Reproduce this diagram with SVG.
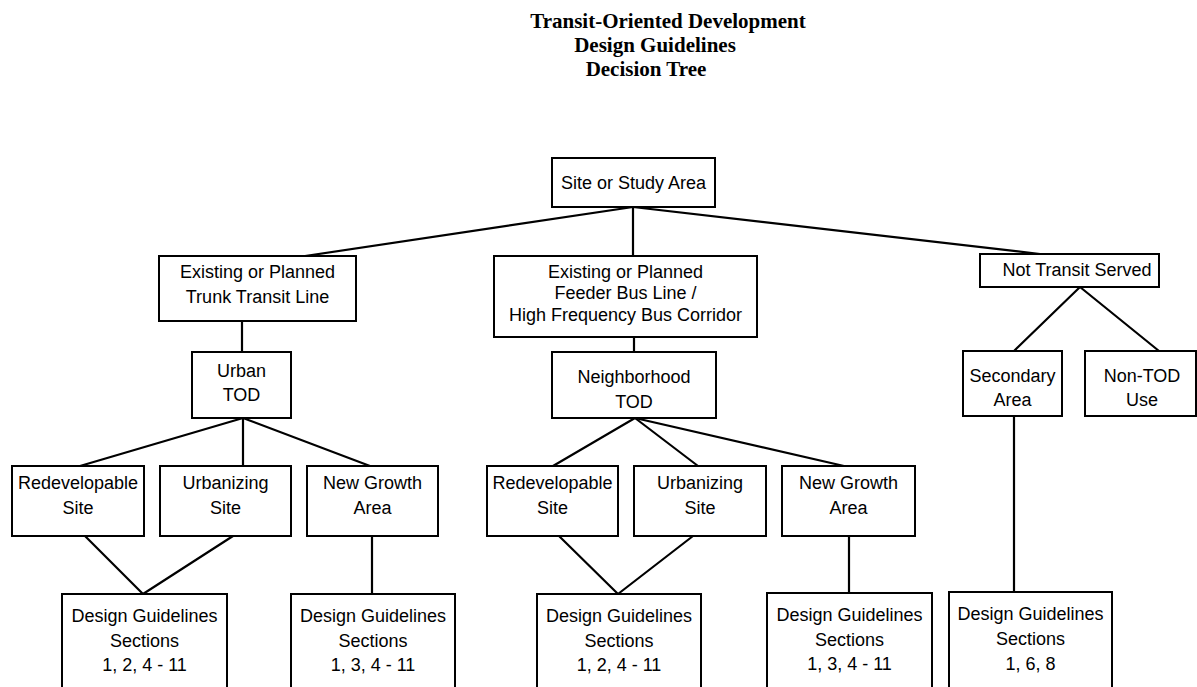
<svg xmlns="http://www.w3.org/2000/svg" width="1197" height="687" viewBox="0 0 1197 687">
<style>
.box{fill:#fff;stroke:#000;stroke-width:2}
.t{font-family:"Liberation Sans",Arial,sans-serif;font-size:18px;fill:#000;text-anchor:middle}
.title{font-family:"Liberation Serif","Times New Roman",serif;font-size:21px;font-weight:bold;fill:#000;text-anchor:middle}
.c line{stroke:#000;stroke-width:2.2;stroke-linecap:round}
</style>
<rect width="1197" height="687" fill="#fff"/>
<g id="title">
<text class="title" x="668" y="28">Transit-Oriented Development</text>
<text class="title" x="655" y="52">Design Guidelines</text>
<text class="title" x="646" y="76">Decision Tree</text>
</g>
<g id="connectors" class="c">
<line x1="633" y1="207" x2="305" y2="256"/>
<line x1="633" y1="207" x2="633" y2="256"/>
<line x1="633" y1="207" x2="1040" y2="254"/>
<line x1="242" y1="321" x2="242" y2="352"/>
<line x1="634" y1="337" x2="634" y2="352"/>
<line x1="243" y1="418" x2="80" y2="466"/>
<line x1="243" y1="418" x2="243" y2="466"/>
<line x1="243" y1="418" x2="370" y2="466"/>
<line x1="635" y1="418" x2="553" y2="466"/>
<line x1="635" y1="418" x2="698" y2="466"/>
<line x1="635" y1="418" x2="844" y2="466"/>
<line x1="1080" y1="287" x2="1014" y2="351"/>
<line x1="1080" y1="287" x2="1159" y2="351"/>
<line x1="85" y1="536" x2="143" y2="594"/>
<line x1="233" y1="536" x2="143" y2="594"/>
<line x1="372" y1="536" x2="372" y2="594"/>
<line x1="559" y1="536" x2="618" y2="594"/>
<line x1="693" y1="536" x2="618" y2="594"/>
<line x1="849" y1="536" x2="849" y2="593"/>
<line x1="1014" y1="416" x2="1014" y2="592"/>
</g>
<g id="site"><rect class="box" x="552" y="158" width="163" height="49"/><text class="t" x="633.5" y="189">Site or Study Area</text></g>
<g id="trunk"><rect class="box" x="159" y="256" width="197" height="65"/><text class="t" x="257.5" y="278">Existing or Planned</text><text class="t" x="257.5" y="303">Trunk Transit Line</text></g>
<g id="feeder"><rect class="box" x="494" y="256" width="263" height="81"/><text class="t" x="625.5" y="278">Existing or Planned</text><text class="t" x="625.5" y="299">Feeder Bus Line /</text><text class="t" x="625.5" y="321">High Frequency Bus Corridor</text></g>
<g id="notransit"><rect class="box" x="980" y="254" width="179" height="33"/><text class="t" x="1077" y="276">Not Transit Served</text></g>
<g id="urban"><rect class="box" x="192" y="352" width="99" height="66"/><text class="t" x="241.5" y="377">Urban</text><text class="t" x="241.5" y="401">TOD</text></g>
<g id="neighborhood"><rect class="box" x="552" y="352" width="164" height="66"/><text class="t" x="634" y="383">Neighborhood</text><text class="t" x="634" y="408">TOD</text></g>
<g id="secondary"><rect class="box" x="963" y="351" width="99" height="65"/><text class="t" x="1012.5" y="382">Secondary</text><text class="t" x="1012.5" y="406">Area</text></g>
<g id="nontod"><rect class="box" x="1085" y="351" width="111" height="65"/><text class="t" x="1142" y="382">Non-TOD</text><text class="t" x="1142" y="406">Use</text></g>
<g id="redev1"><rect class="box" x="12" y="466" width="132" height="70"/><text class="t" x="78" y="489">Redevelopable</text><text class="t" x="78" y="514">Site</text></g>
<g id="urbanizing1"><rect class="box" x="160" y="466" width="131" height="70"/><text class="t" x="225.5" y="489">Urbanizing</text><text class="t" x="225.5" y="514">Site</text></g>
<g id="newgrowth1"><rect class="box" x="307" y="466" width="131" height="70"/><text class="t" x="372.5" y="489">New Growth</text><text class="t" x="372.5" y="514">Area</text></g>
<g id="redev2"><rect class="box" x="487" y="466" width="131" height="70"/><text class="t" x="552.5" y="489">Redevelopable</text><text class="t" x="552.5" y="514">Site</text></g>
<g id="urbanizing2"><rect class="box" x="634" y="466" width="132" height="70"/><text class="t" x="700" y="489">Urbanizing</text><text class="t" x="700" y="514">Site</text></g>
<g id="newgrowth2"><rect class="box" x="782" y="466" width="133" height="70"/><text class="t" x="848.5" y="489">New Growth</text><text class="t" x="848.5" y="514">Area</text></g>
<g id="dg1"><rect class="box" x="62" y="594" width="165" height="96"/><text class="t" x="144.5" y="622">Design Guidelines</text><text class="t" x="144.5" y="647">Sections</text><text class="t" x="144.5" y="671">1, 2, 4 - 11</text></g>
<g id="dg2"><rect class="box" x="291" y="594" width="164" height="96"/><text class="t" x="373" y="622">Design Guidelines</text><text class="t" x="373" y="647">Sections</text><text class="t" x="373" y="671">1, 3, 4 - 11</text></g>
<g id="dg3"><rect class="box" x="537" y="594" width="164" height="96"/><text class="t" x="619" y="622">Design Guidelines</text><text class="t" x="619" y="647">Sections</text><text class="t" x="619" y="671">1, 2, 4 - 11</text></g>
<g id="dg4"><rect class="box" x="767" y="593" width="165" height="97"/><text class="t" x="849.5" y="621">Design Guidelines</text><text class="t" x="849.5" y="646">Sections</text><text class="t" x="849.5" y="670">1, 3, 4 - 11</text></g>
<g id="dg5"><rect class="box" x="949" y="592" width="163" height="98"/><text class="t" x="1030.5" y="620">Design Guidelines</text><text class="t" x="1030.5" y="645">Sections</text><text class="t" x="1030.5" y="670">1, 6, 8</text></g>
</svg>
